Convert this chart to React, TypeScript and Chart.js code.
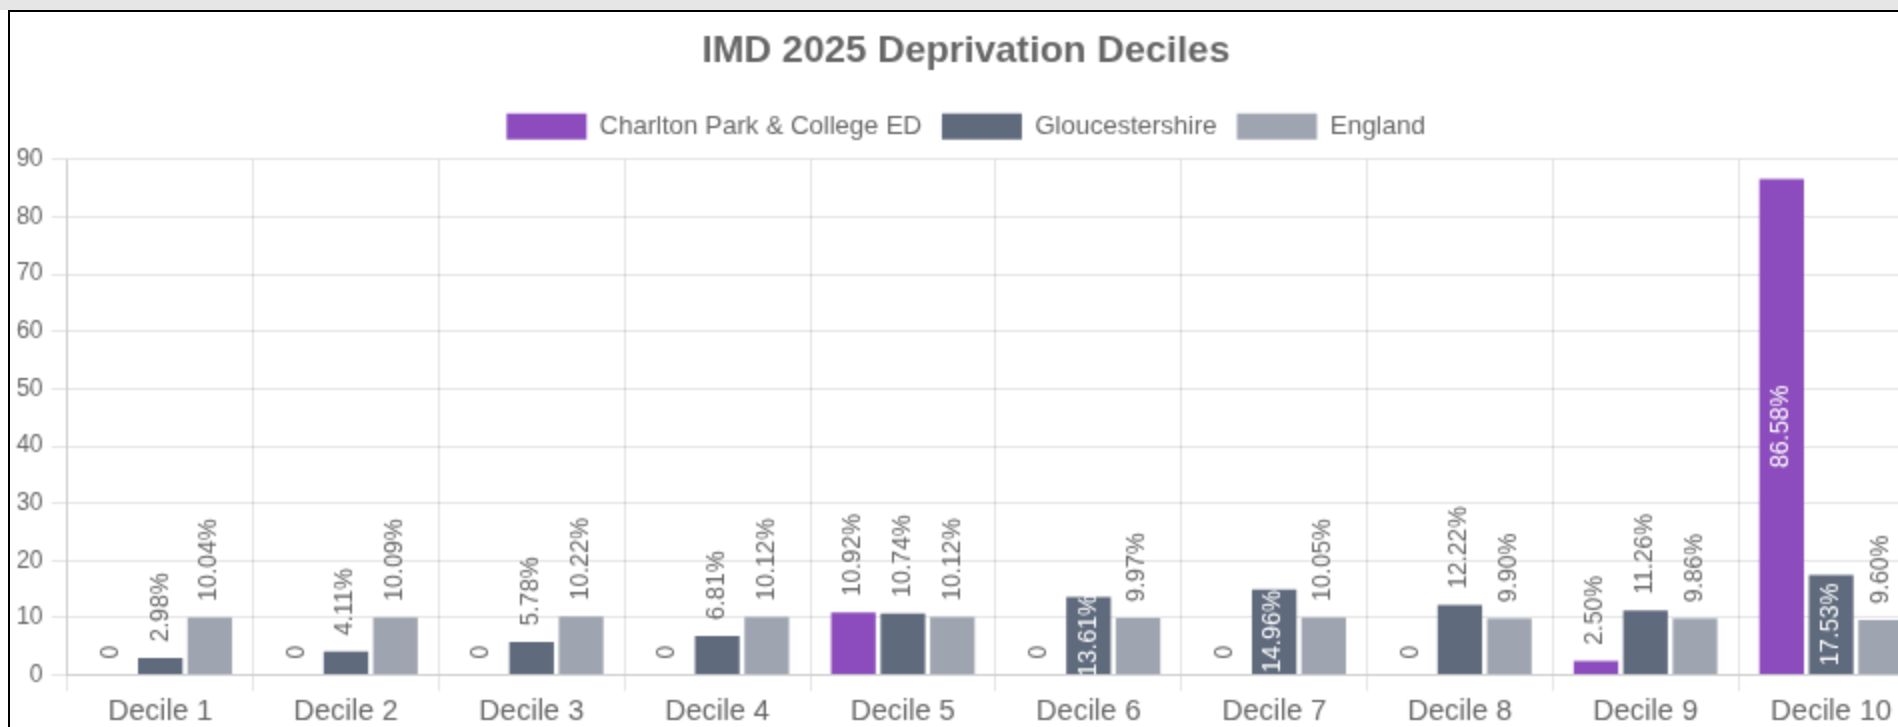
import React, { useEffect, useRef } from "react";
import { Chart, registerables } from "chart.js";

Chart.register(...registerables);

const categories = [
  "Decile 1", "Decile 2", "Decile 3", "Decile 4", "Decile 5",
  "Decile 6", "Decile 7", "Decile 8", "Decile 9", "Decile 10",
];
const seriesNames = ["Charlton Park & College ED", "Gloucestershire", "England"];
const charltonValues = [0, 0, 0, 0, 10.92, 0, 0, 0, 2.5, 86.58];
const gloucestershireValues = [2.98, 4.11, 5.78, 6.81, 10.74, 13.61, 14.96, 12.22, 11.26, 17.53];
const englandValues = [10.04, 10.09, 10.22, 10.12, 10.12, 9.97, 10.05, 9.9, 9.86, 9.6];
const seriesColors = ["#8d4cbd", "#5f6a7d", "#9ea4b0"];
const titleText = "IMD 2025 Deprivation Deciles";

const FONT = "'Liberation Sans', Arial, Helvetica, sans-serif";
const INSIDE_MIN = 13;

const labelPlugin = {
  id: "barValueLabels",
  afterDatasetsDraw(chart: any) {
    const { ctx, chartArea } = chart;
    ctx.save();
    ctx.beginPath();
    ctx.rect(chartArea.left, chartArea.top, chartArea.right - chartArea.left, chartArea.bottom - chartArea.top);
    ctx.clip();
    ctx.font = `12.2px ${FONT}`;
    chart.data.datasets.forEach((ds: any, di: number) => {
      const meta = chart.getDatasetMeta(di);
      meta.data.forEach((bar: any, i: number) => {
        const v = ds.data[i] as number;
        const text = v === 0 ? "0" : v.toFixed(2) + "%";
        const p = bar.getProps(["x", "y", "base"], true);
        ctx.save();
        if (v >= INSIDE_MIN) {
          ctx.translate(p.x, (p.y + p.base) / 2);
          ctx.rotate(-Math.PI / 2);
          ctx.textAlign = "center";
          ctx.textBaseline = "middle";
          ctx.fillStyle = "#ffffff";
        } else {
          ctx.translate(p.x, p.y - 8);
          ctx.rotate(-Math.PI / 2);
          ctx.textAlign = "left";
          ctx.textBaseline = "middle";
          ctx.fillStyle = "#666666";
        }
        ctx.fillText(text, 0, 0);
        ctx.restore();
      });
    });
    ctx.restore();
  },
};

export default function App() {
  const canvasRef = useRef<HTMLCanvasElement | null>(null);

  useEffect(() => {
    document.documentElement.style.overflow = "hidden";
    document.body.style.overflow = "hidden";
    document.body.style.margin = "0";
    const canvas = canvasRef.current;
    if (!canvas) return;
    const chart = new Chart(canvas, {
      type: "bar",
      data: {
        labels: categories,
        datasets: [
          { label: seriesNames[0], data: charltonValues, backgroundColor: seriesColors[0] },
          { label: seriesNames[1], data: gloucestershireValues, backgroundColor: seriesColors[1] },
          { label: seriesNames[2], data: englandValues, backgroundColor: seriesColors[2] },
        ],
      },
      options: {
        responsive: false,
        animation: false,
        devicePixelRatio: 1,
        layout: { padding: { left: -1, right: 0, top: 0, bottom: 0 } },
        font: { family: FONT },
        plugins: {
          title: {
            display: true,
            text: titleText,
            color: "#666666",
            font: { family: FONT, size: 19, weight: "bold" },
            padding: { top: 8, bottom: 10 },
          },
          legend: {
            display: true,
            labels: { color: "#666666", font: { family: FONT, size: 13 }, boxWidth: 40, padding: 10 },
          },
          tooltip: { enabled: false },
        },
        scales: {
          x: {
            ticks: { color: "#666666", font: { family: FONT, size: 14.5 }, padding: 2 },
            grid: { color: "rgba(0,0,0,0.1)" },
          },
          y: {
            beginAtZero: true,
            ticks: { color: "#666666", font: { family: FONT, size: 12 }, padding: 4.2 },
            grid: { color: "rgba(0,0,0,0.1)" },
          },
        },
      } as any,
      plugins: [labelPlugin],
    });
    return () => chart.destroy();
  }, []);

  return (
    <div style={{ width: 1898, height: 727, overflow: "hidden", background: "#ffffff" }}>
      <div style={{ height: 10, background: "#e6e6e6" }} />
      <div
        style={{
          marginLeft: 8,
          borderLeft: "2px solid #000",
          borderTop: "2px solid #000",
          width: 2000,
          height: 730,
          background: "#ffffff",
        }}
      >
        <canvas
          ref={canvasRef}
          width={957}
          height={361}
          style={{ width: 1914, height: 722, display: "block" }}
        />
      </div>
    </div>
  );
}
